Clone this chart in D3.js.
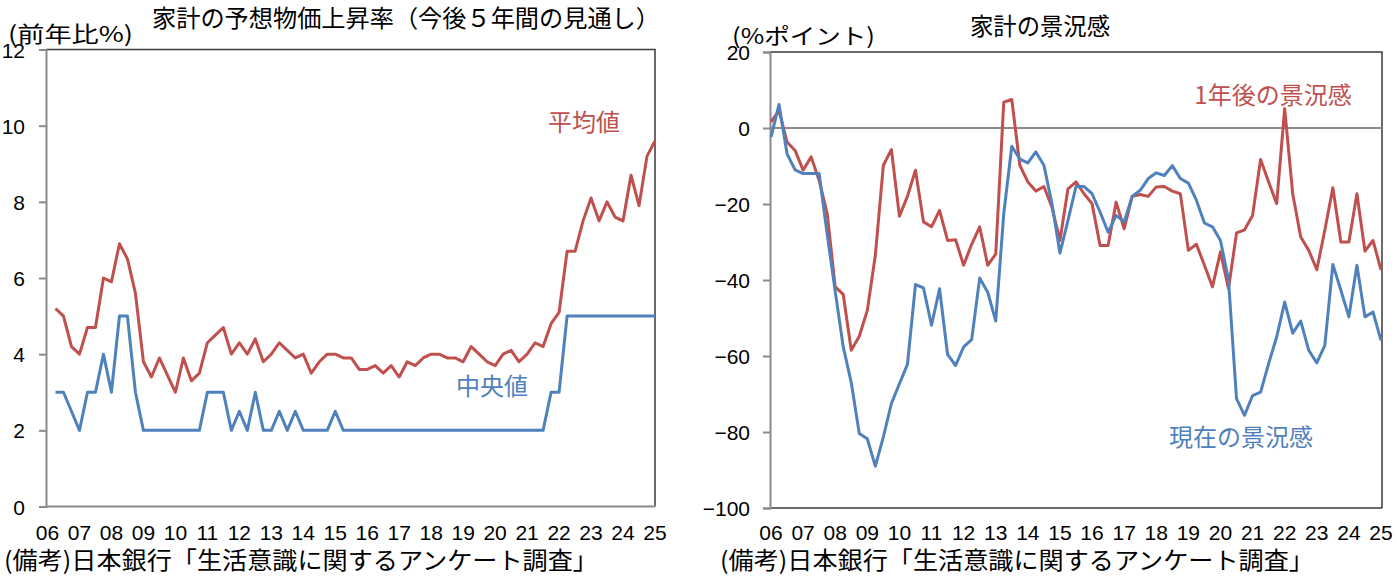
<!DOCTYPE html>
<html>
<head>
<meta charset="utf-8">
<script src="https://cdn.jsdelivr.net/npm/d3@7"></script>
<style>
  body { margin: 0; background: #fff; }
  svg { display: block; }
</style>
</head>
<body>
<svg id="chart" width="1397" height="582"></svg>
<script>
// year labels under both charts (one every 4 quarters)
const yearLabels = ["06","07","08","09","10","11","12","13","14","15","16","17","18","19","20","21","22","23","24","25"];

// left chart: expected price rise over next 5 years (%)
const priceMean = [5.2,5.0,4.2,4.0,4.7,4.7,6.0,5.9,6.9,6.5,
    5.6,3.8,3.4,3.9,3.45,3.0,3.9,3.3,3.5,4.3,
    4.5,4.7,4.0,4.3,4.0,4.4,3.8,4.0,4.3,4.1,
    3.9,4.0,3.5,3.8,4.0,4.0,3.9,3.9,3.6,3.6,
    3.7,3.5,3.7,3.4,3.8,3.7,3.9,4.0,4.0,3.9,
    3.9,3.8,4.2,4.0,3.8,3.7,4.0,4.1,3.8,4.0,
    4.3,4.2,4.8,5.1,6.7,6.7,7.5,8.1,7.5,8.0,
    7.6,7.5,8.7,7.9,9.2,9.6];
const priceMedian = [3,3,2.5,2,3,3,4,3,5,5,
    3,2,2,2,2,2,2,2,2,3,
    3,3,2,2.5,2,3,2,2,2.5,2,
    2.5,2,2,2,2,2.5,2,2,2,2,
    2,2,2,2,2,2,2,2,2,2,
    2,2,2,2,2,2,2,2,2,2,
    2,2,3,3,5,5,5,5,5,5,
    5,5,5,5,5,5];
const leftTicks = [0, 2, 4, 6, 8, 10, 12];

// right chart: business conditions DI (% points)
const diCurrent = [-2.4,6.2,-6.8,-11,-12,-12,-12,-28,-43,-57.6,
    -67,-80.4,-81.8,-89,-81.3,-72.5,-67.3,-62.2,-41.2,-42.1,
    -51.9,-42.3,-59.6,-62.5,-57.6,-55.7,-39.5,-43.2,-50.8,-22.5,
    -4.8,-8.2,-9.2,-6.3,-9.8,-19.9,-32.9,-24.3,-15.4,-15.4,
    -17.3,-22.1,-27.4,-23,-24.7,-18,-16.4,-13.3,-11.8,-12.5,
    -9.9,-13.3,-14.5,-19,-25,-26,-29.6,-40,-71.2,-75.6,
    -70.4,-69.5,-62,-55,-45.8,-54,-50.8,-58.5,-61.8,-57.2,
    -35.9,-42.7,-49.7,-36.1,-49.7,-48.4,-55.9];
const diFuture = [1.6,4.6,-3.7,-5.9,-11.1,-7.6,-13.8,-22.5,-41.8,-43.8,
    -58.5,-54.8,-48,-33.5,-9.8,-5.7,-23.2,-18,-11.1,-24.7,
    -26,-21.7,-29.6,-29.4,-36.1,-30.6,-26,-36.1,-33.2,6.8,
    7.5,-9.8,-14.2,-16.6,-15.4,-20.8,-29.6,-16,-14.2,-17.3,
    -19.9,-30.9,-30.9,-19.5,-26.5,-18,-17.5,-18,-15.5,-15.4,
    -16.6,-17.3,-32.2,-30.6,-36.1,-41.8,-32.6,-42.3,-27.6,-26.8,
    -23,-8.3,-14.2,-19.9,5.1,-17.3,-28.7,-32.2,-37.3,-26.9,
    -15.7,-30,-30,-17.3,-32.4,-29.6,-37.3];
const rightTicks = [-100, -80, -60, -40, -20, 0, 20];

const RED = "#C0504D";
const BLUE = "#4F81BD";
const JP = "'Noto Sans CJK JP', sans-serif";
const NUM = "'Liberation Sans', Arial, sans-serif";

const svg = d3.select("#chart");

// text with a fixed width so it spans the same room as in the source picture
function fixedText(g, txt, x, y, size, width, anchor) {
    return g.append("text")
        .attr("x", x).attr("y", y)
        .attr("text-anchor", anchor || "start")
        .attr("font-family", JP).attr("font-size", size)
        .attr("textLength", width).attr("lengthAdjust", "spacingAndGlyphs")
        .text(txt);
}

function drawPanel(cfg) {
    const g = svg.append("g");
    const x = d3.scaleLinear().domain([0, 76]).range(cfg.xRange);
    const y = d3.scaleLinear().domain(cfg.yDomain).range(cfg.yRange);
    const [x0, x1] = cfg.frameX;
    const [yb, yt] = cfg.yRange;

    // frame: top and right border darker
    g.append("path")
        .attr("d", `M${x0},${yt}H${x1}V${yb}`)
        .attr("fill", "none").attr("stroke", "#3a3a3a").attr("stroke-width", 1.5);
    if (cfg.darkBottom) {
        g.append("line").attr("x1", x0).attr("x2", x1).attr("y1", yb).attr("y2", yb)
            .attr("stroke", "#3a3a3a").attr("stroke-width", 1.5);
    }

    // zero / base line
    g.append("line")
        .attr("x1", x0).attr("x2", x1)
        .attr("y1", y(cfg.baseValue)).attr("y2", y(cfg.baseValue))
        .attr("stroke", "#8a8a8a").attr("stroke-width", 2);

    // y axis
    const yAxis = d3.axisLeft(y).tickValues(cfg.ticks).tickSize(7).tickFormat(d => d < 0 ? "\u2212" + Math.abs(d) : d);
    const ya = g.append("g").attr("transform", `translate(${x0},0)`).call(yAxis);
    ya.select(".domain").attr("stroke", "#8a8a8a").attr("stroke-width", 2);
    ya.selectAll(".tick line").attr("stroke", "#8a8a8a").attr("stroke-width", 2);
    ya.selectAll(".tick text")
        .attr("x", cfg.tickLabelX - x0).attr("dy", "0.36em")
        .attr("font-family", NUM).attr("font-size", 21).attr("fill", "#000");

    // year labels
    g.selectAll(".yr").data(yearLabels).enter().append("text")
        .attr("class", "yr")
        .attr("x", (d, i) => x(i * 4)).attr("y", 540)
        .attr("text-anchor", "middle")
        .attr("font-family", NUM).attr("font-size", 21)
        .text(d => d);

    // series
    cfg.series.forEach(s => {
        const line = d3.line()
            .x((d, i) => x(i + s.start))
            .y(d => y(d));
        g.append("path").datum(s.values)
            .attr("d", line)
            .attr("fill", "none").attr("stroke", s.color)
            .attr("stroke-width", 3).attr("stroke-linejoin", "round");
        g.append("text")
            .attr("x", s.labelPos[0]).attr("y", s.labelPos[1])
            .attr("text-anchor", "middle").attr("dy", "0.36em")
            .attr("font-family", JP).attr("font-size", 24)
            .attr("fill", s.color).text(s.name);
    });

    // titles and notes
    fixedText(g, cfg.title, cfg.titlePos[0], cfg.titlePos[1], 24, cfg.titleWidth, "middle");
    fixedText(g, cfg.unit, cfg.unitPos[0], cfg.unitPos[1], 22, cfg.unitWidth);
    fixedText(g, "(備考)日本銀行「生活意識に関するアンケート調査」", cfg.notePos[0], cfg.notePos[1], 24, 594);
}

drawPanel({
    xRange: [47.5, 655],
    frameX: [46, 655],
    yDomain: [0, 12],
    yRange: [506.5, 49.5],
    ticks: leftTicks,
    baseValue: 0,
    tickLabelX: 25,
    darkBottom: false,
    title: "家計の予想物価上昇率（今後５年間の見通し）",
    titlePos: [406, 27],
    titleWidth: 508,
    unit: "(前年比%)",
    unitPos: [8, 42],
    unitWidth: 125,
    notePos: [4, 569],
    series: [
        { name: "平均値", values: priceMean, start: 1, color: RED, labelPos: [584, 122] },
        { name: "中央値", values: priceMedian, start: 1, color: BLUE, labelPos: [492, 386] }
    ]
});

drawPanel({
    xRange: [771, 1381],
    frameX: [770, 1382],
    yDomain: [-100, 20],
    yRange: [508, 52],
    ticks: rightTicks,
    baseValue: 0,
    tickLabelX: 750,
    darkBottom: true,
    title: "家計の景況感",
    titlePos: [1040, 35],
    titleWidth: 140,
    unit: "(%ポイント)",
    unitPos: [732, 44],
    unitWidth: 143,
    notePos: [720, 569],
    series: [
        { name: "1年後の景況感", values: diFuture, start: 0, color: RED, labelPos: [1273, 95] },
        { name: "現在の景況感", values: diCurrent, start: 0, color: BLUE, labelPos: [1241, 437] }
    ]
});
</script>
</body>
</html>
